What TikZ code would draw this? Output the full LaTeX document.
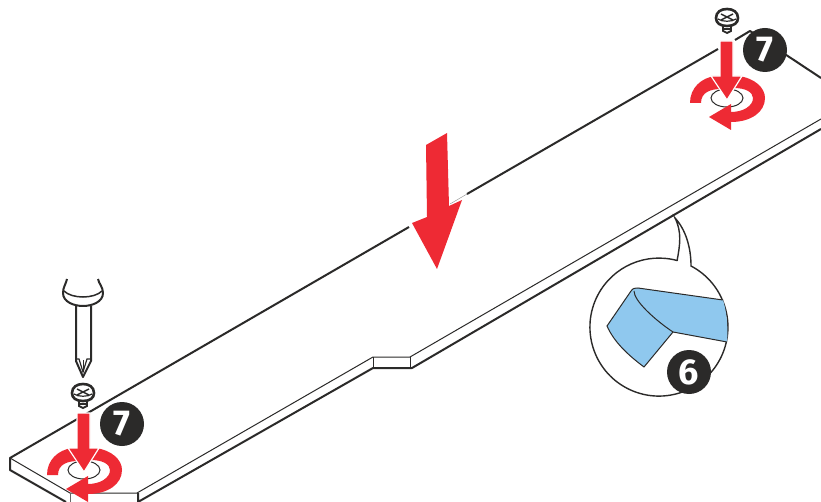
\documentclass[tikz,border=0pt]{standalone}
\usepackage{fontspec}
\setmainfont{Fira Sans}
\definecolor{arrowred}{HTML}{EE2A34}
\definecolor{padblue}{HTML}{8FC8EE}
\definecolor{badgeblack}{HTML}{2B2A29}
\newcommand{\screwpart}[2]{%
\begin{scope}[shift={(#1,#2)}]
\fill[white, draw=badgeblack, line width=1.8] (-4,5) -- (-4,13) -- (0,15) -- (4,13) -- (4,5) -- cycle;
\draw[line width=1.2, badgeblack] (-4,8) -- (4,8) (-4,11) -- (4,11);
\draw[fill=white, draw=badgeblack, line width=2.6] (-11,0) .. controls (-11,-6) and (-6,-9) .. (0,-9) .. controls (6,-9) and (11,-6) .. (11,0) .. controls (11,5) and (7,8) .. (0,8) .. controls (-7,8) and (-11,5) .. (-11,0) -- cycle;
\draw[line width=1.4, badgeblack] (-6,-4) -- (6,2) (6,-4) -- (-6,2);
\draw[line width=1.2, badgeblack] (-9,1) .. controls (-5,4) and (5,4) .. (9,1);
\end{scope}}
\newcommand{\turnpart}[2]{%
\begin{scope}[shift={(#1,#2)}]
\draw[line width=1, badgeblack] (0,0) ellipse (16 and 9);
\fill[arrowred] (-37,5) .. controls (-37,-10) and (-26,-20) .. (-12,-22) -- (-6,-9) .. controls (-16,-9) and (-26,-6) .. (-26,5) -- cycle;
\fill[arrowred] (11,-22) .. controls (28,-20) and (38,-10) .. (38,0) .. controls (38,14) and (24,24) .. (4,24) -- (4,14) .. controls (16,14) and (26,8) .. (26,0) .. controls (26,-6) and (18,-10) .. (7,-10) -- cycle;
\fill[arrowred] (-18,19) -- (4,6) -- (4,32) -- cycle;
\draw[fill=arrowred, draw=white, line width=1.2] (-7,-57) -- (6,-57) -- (6,-22) -- (15,-22) -- (0,2) -- (-16,-22) -- (-7,-22) -- cycle;
\end{scope}}
\begin{document}
\begin{tikzpicture}[x=1pt, y=-1pt,
  thinedge/.style={line width=1, badgeblack},
  thickedge/.style={line width=2, badgeblack, line join=round},
  numberbadge/.style={circle, fill=badgeblack, text=white, minimum size=44, inner sep=0, font=\bfseries\fontsize{36}{36}\selectfont}]
\clip (0,0) rectangle (821,502);
\fill[white] (0,0) rectangle (821,502);
% board outline
\draw[thickedge] (66,502) -- (10,470) -- (10,458) -- (409,227);
\draw[thickedge] (467,194) -- (718,49);
\draw[thickedge] (735,40) -- (750,31) -- (821,78);
\draw[line width=0.4, black!45] (450,204) -- (467,194);
\draw[thinedge] (10,458) -- (70,493) -- (137,493) -- (373,357) -- (410,357) -- (821,119);
\draw[line width=0.8, black!60] (70,493) -- (70,502);
\draw[thickedge] (138,493) -- (138,502) -- (373,368) -- (412,368) -- (821,129);
\draw[thinedge] (373,357) -- (373,368) (410,357) -- (410,368);
% screwdriver
\draw[thickedge, fill=white] (67,279) .. controls (66,284) and (63,287) .. (63,293) .. controls (63,302) and (74,306) .. (83,306) .. controls (92,306) and (103,302) .. (103,293) .. controls (103,287) and (99,284) .. (98,279);
\draw[line width=1.5, badgeblack] (64,291) .. controls (72,299) and (94,299) .. (102,291);
\draw[thickedge] (76,306) -- (76,361) -- (83,377) -- (91,361) -- (91,306);
\draw[line width=1.2, badgeblack] (76,359) -- (79,359) -- (83,372) -- (87,359) -- (91,359);
\draw[line width=1, badgeblack] (83,360) -- (83,372);
% screws and turning arrows
\screwpart{83}{393}
\screwpart{727}{18}
\turnpart{84}{470}
\turnpart{727}{98}
% big arrow
\fill[arrowred] (426,145) -- (447,133) -- (449,206) -- (462,200) -- (437,269) -- (412,223) -- (427,217) -- cycle;
% callout
\draw[line width=1.4, badgeblack, fill=white] (677,261) .. controls (680,245) and (682,232) .. (675,218) .. controls (686,230) and (691,248) .. (691,266) arc[start angle=-62.3, end angle=285.3, radius=69] -- cycle;
\fill[padblue] (607,326) -- (631,291) .. controls (633,288) and (635,288) .. (638,288) -- (723,300) .. controls (727,313) and (728,328) .. (727,342) -- (673,332) -- (644,367) .. controls (628,355) and (614,342) .. (607,326) -- cycle;
\draw[line width=1, badgeblack] (723,300) -- (638,288) .. controls (635,288) and (633,288) .. (631,291) -- (607,326) .. controls (614,342) and (628,355) .. (644,367) -- (673,332) -- (727,342);
\draw[line width=1, badgeblack] (634,291) .. controls (634,301) and (655,320) .. (673,332);
% numbers
\node[numberbadge] (sevenleft) at (122,424) {7};
\node[numberbadge] (sevenright) at (765,50) {7};
\node[numberbadge] (six) at (689,372) {6};
\end{tikzpicture}
\end{document}
